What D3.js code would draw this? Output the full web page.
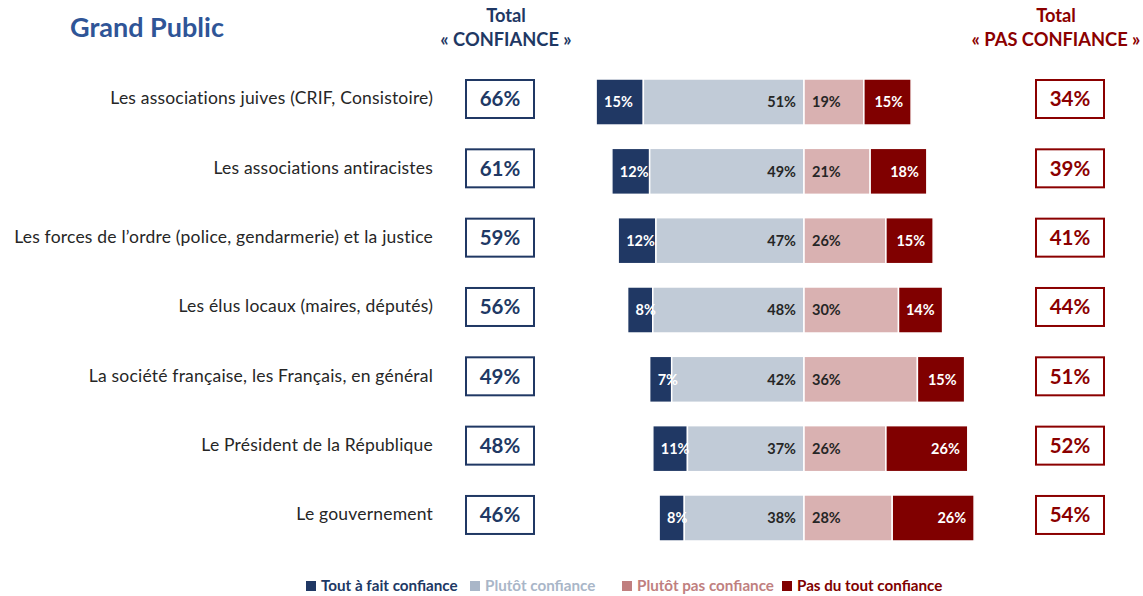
<!DOCTYPE html>
<html>
<head>
<meta charset="utf-8">
<script src="https://cdn.jsdelivr.net/npm/d3@7"></script>
<style>
  body { margin: 0; background: #fff; }
  svg text { font-family: Lato, "Open Sans", sans-serif; }
</style>
</head>
<body>
<div class="chart"></div>
<script>
// Data
// ==============================
var categories = [
  "Les associations juives (CRIF, Consistoire)",
  "Les associations antiracistes",
  "Les forces de l\u2019ordre (police, gendarmerie) et la justice",
  "Les élus locaux (maires, députés)",
  "La société française, les Français, en général",
  "Le Président de la République",
  "Le gouvernement"
];
var toutAFait = [15, 12, 12, 8, 7, 11, 8];
var plutot = [51, 49, 47, 48, 42, 37, 38];
var plutotPas = [19, 21, 26, 30, 36, 26, 28];
var pasDuTout = [15, 18, 15, 14, 15, 26, 26];
var totalConfiance = [66, 61, 59, 56, 49, 48, 46];
var totalPasConfiance = [34, 39, 41, 44, 51, 52, 54];
var legendLabels = ["Tout à fait confiance", "Plutôt confiance", "Plutôt pas confiance", "Pas du tout confiance"];

var colors = {
  navy: "#203864",
  lightBlue: "#c1cbd7",
  pink: "#d9b1b1",
  darkRed: "#800000"
};

// Set up svg
// ==============================
var svgWidth = 1143;
var svgHeight = 596;

var svg = d3.select(".chart")
  .append("svg")
  .attr("width", svgWidth)
  .attr("height", svgHeight);

// Scales
var center = 804;
var xScale = d3.scaleLinear()
  .domain([-100, 100])
  .range([center - 315, center + 315]);

var yScale = d3.scaleBand()
  .domain(categories)
  .range([79, 541])
  .paddingInner(0.336)
  .paddingOuter(0);

var bh = yScale.bandwidth();

// build rows
var rows = categories.map(function (c, i) {
  return {
    cat: c,
    segs: [
      { x0: -toutAFait[i] - plutot[i], x1: -plutot[i], v: toutAFait[i], fill: colors.navy, txt: "#fff", align: "start" },
      { x0: -plutot[i], x1: 0, v: plutot[i], fill: colors.lightBlue, txt: "#262626", align: "endAtCenter" },
      { x0: 0, x1: plutotPas[i], v: plutotPas[i], fill: colors.pink, txt: "#262626", align: "startAtCenter" },
      { x0: plutotPas[i], x1: plutotPas[i] + pasDuTout[i], v: pasDuTout[i], fill: colors.darkRed, txt: "#fff", align: "end" }
    ],
    conf: totalConfiance[i],
    pas: totalPasConfiance[i]
  };
});

var rowGroups = svg.selectAll(".row")
  .data(rows)
  .enter()
  .append("g")
  .attr("class", "row")
  .attr("transform", d => `translate(0, ${yScale(d.cat)})`);

// bars
rowGroups.selectAll("rect.seg")
  .data(d => d.segs)
  .enter()
  .append("rect")
  .attr("class", "seg")
  .attr("x", d => xScale(d.x0))
  .attr("width", d => xScale(d.x1) - xScale(d.x0))
  .attr("y", 0)
  .attr("height", bh)
  .attr("fill", d => d.fill)
  .attr("stroke", "#fff")
  .attr("stroke-width", 1.5);

// bar labels
rowGroups.selectAll("text.seglabel")
  .data(d => d.segs)
  .enter()
  .append("text")
  .attr("class", "seglabel")
  .attr("x", function (d) {
    if (d.align === "start") return xScale(d.x0) + 8;
    if (d.align === "end") return xScale(d.x1) - 8;
    if (d.align === "endAtCenter") return xScale(0) - 8;
    return xScale(0) + 8;
  })
  .attr("y", bh / 2)
  .attr("dy", "0.36em")
  .attr("text-anchor", d => (d.align === "end" || d.align === "endAtCenter") ? "end" : "start")
  .attr("fill", d => d.txt)
  .attr("font-size", 14.5)
  .attr("font-weight", "bold")
  .text(d => d.v + "%");

// category labels
rowGroups.append("text")
  .attr("x", 433)
  .attr("y", bh / 2 - 4)
  .attr("dy", "0.36em")
  .attr("text-anchor", "end")
  .attr("fill", "#262626")
  .attr("font-size", 17.5)
  .attr("letter-spacing", 0.2)
  .text(d => d.cat);

// total boxes
function totalBox(x, color, key) {
  rowGroups.append("rect")
    .attr("x", x)
    .attr("y", 1)
    .attr("width", 68)
    .attr("height", 38)
    .attr("fill", "none")
    .attr("stroke", color)
    .attr("stroke-width", 2);
  rowGroups.append("text")
    .attr("x", x + 34)
    .attr("y", 20)
    .attr("dy", "0.36em")
    .attr("text-anchor", "middle")
    .attr("fill", color)
    .attr("font-size", 20.5)
    .attr("font-weight", "bold")
    .text(d => d[key] + "%");
}
totalBox(466, "#203864", "conf");
totalBox(1036, "#8b0000", "pas");

// headers
svg.append("text")
  .attr("x", 70)
  .attr("y", 37)
  .attr("fill", "#2f5597")
  .attr("font-size", 27)
  .attr("font-weight", "bold")
  .text("Grand Public");

function header(x, color, line2) {
  svg.append("text")
    .attr("x", x).attr("y", 22)
    .attr("text-anchor", "middle")
    .attr("fill", color)
    .attr("font-size", 18.3)
    .attr("font-weight", "bold")
    .text("Total");
  svg.append("text")
    .attr("x", x).attr("y", 46)
    .attr("text-anchor", "middle")
    .attr("fill", color)
    .attr("font-size", 18.3)
    .attr("font-weight", "bold")
    .text(line2);
}
header(506, "#1f3864", "« CONFIANCE »");
header(1056, "#8b0000", "« PAS CONFIANCE »");

// legend
var legendColors = ["#203864", "#a9b6c8", "#c07f7f", "#800000"];
var legendX = [306, 470, 622, 782];

var legend = svg.selectAll(".legend")
  .data(legendLabels)
  .enter()
  .append("g")
  .attr("class", "legend")
  .attr("transform", (d, i) => `translate(${legendX[i]}, 586)`);

legend.append("rect")
  .attr("x", 0)
  .attr("y", -5)
  .attr("width", 10)
  .attr("height", 10)
  .attr("fill", (d, i) => legendColors[i]);

legend.append("text")
  .attr("x", 15)
  .attr("y", 0)
  .attr("dy", "0.36em")
  .attr("fill", (d, i) => legendColors[i])
  .attr("font-size", 15.2)
  .attr("font-weight", "bold")
  .text(d => d);
</script>
</body>
</html>
